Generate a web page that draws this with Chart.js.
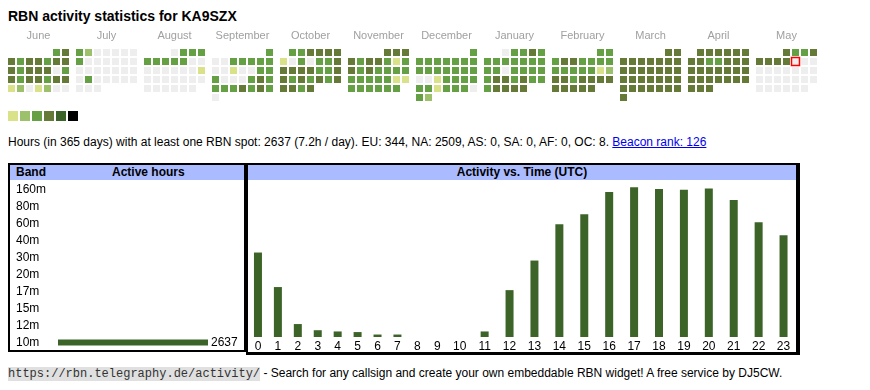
<!DOCTYPE html>
<html lang="en">
<head>
<meta charset="UTF-8">
<title>RBN activity statistics for KA9SZX</title>
<script src="https://cdn.jsdelivr.net/npm/chart.js"></script>
<style>
  body { margin: 0; width: 870px; height: 390px; position: relative; overflow: hidden; background: #fff;
         font-family: "Liberation Sans", Arial, sans-serif; font-size: 12px; color: #000; }
  .abs { position: absolute; white-space: nowrap; }
  #title { left: 8px; top: 8px; font-size: 14px; font-weight: bold; line-height: 16px; }
  .sw { position: absolute; top: 111px; width: 10px; height: 10px; }
  #summary { left: 8px; top: 135px; line-height: 14px; }
  #summary a { color: #0000ee; text-decoration: underline; }
  .box { position: absolute; box-sizing: border-box; border: 2px solid #000; }
  .head { position: absolute; top: 165px; height: 15px; background: #aabbff; }
  .th { position: absolute; top: 165px; line-height: 14px; font-weight: bold; white-space: nowrap; }
  canvas { position: absolute; }
  #footer { left: 8px; top: 366px; line-height: 15px; }
  .mono { font-family: "Liberation Mono", "Courier New", monospace; font-size: 12px; background: #e0e0e0; color: #333; }
</style>
</head>
<body>
<div id="title" class="abs">RBN activity statistics for KA9SZX</div>
<canvas id="heat" width="870" height="80" style="left:0;top:25px"></canvas>
<div id="legend"></div>
<div id="summary" class="abs">Hours (in 365 days) with at least one RBN spot: 2637 (7.2h / day). EU: 344, NA: 2509, AS: 0, SA: 0, AF: 0, OC: 8. <a href="#">Beacon rank: 126</a></div>

<div class="box" style="left:8px;top:163px;width:238px;height:189px"></div>
<div class="box" style="left:246px;top:163px;width:554px;height:192px;border-right-width:4px;border-bottom-width:3px"></div>
<div class="head" style="left:10px;width:234px"></div>
<div class="head" style="left:248px;width:548px"></div>
<div class="th" style="left:16px">Band</div>
<div class="th" style="left:112px">Active hours</div>
<div class="th" style="left:248px;width:548px;text-align:center">Activity vs. Time (UTC)</div>
<canvas id="bands" width="228" height="170" style="left:16px;top:181px"></canvas>
<canvas id="hours" width="548" height="173" style="left:248px;top:181px"></canvas>

<div id="footer" class="abs"><span class="mono">https://rbn.telegraphy.de/activity/</span> - Search for any callsign and create your own embeddable RBN widget! A free service by DJ5CW.</div>

<script>
// activity level per day (0 = none ... 5 = most), June 2024 - May 2025
const jun24 = [3,4, 4,3,4,4,3,4,4, 4,3,4,4,4,0,3, 4,3,4,4,3,4,4, 1,2,0,1,2,0,0];
const jul24 = [3,2,0,0,0,0,0, 3,0,0,0,0,0,0, 0,0,0,0,0,0,0, 0,3,0,0,0,0,0, 0,0,0];
const aug24 = [0,3,3,3, 3,3,3,3,3,0,0, 0,0,0,0,0,0,1, 0,0,0,0,0,0,0, 0,0,0,0,0,0];
const sep24 = [3, 0,0,3,3,3,3,3, 0,0,1,0,0,3,3, 3,0,0,0,3,4,3, 3,3,3,4,3,4,3, 0];
const oct24 = [3,3,4,4,4,4, 1,0,3,0,3,3,4, 4,4,4,4,3,3,4, 4,3,4,3,4,3,4, 4,4,3,4];
const nov24 = [4,4,4, 4,3,4,4,3,1,3, 4,3,4,3,3,3,3, 3,3,3,3,3,1,1, 3,3,3,3,3,3];
const dec24 = [3, 3,3,3,3,3,3,3, 3,3,3,3,3,3,3, 0,0,1,3,3,3,3, 3,3,1,3,3,3,0, 3,2];
const jan25 = [0,3,3,4,3, 3,3,3,3,3,3,3, 3,3,0,3,3,3,3, 3,4,4,3,4,3,3, 3,4,4,4,4];
const feb25 = [3,3, 3,4,4,3,3,3,3, 3,3,3,3,3,1,2, 4,4,3,4,4,4,4, 4,4,4,4,4];
const mar25 = [4,4, 4,4,4,4,4,4,4, 4,4,4,4,4,4,4, 4,4,4,4,4,4,4, 4,4,4,4,4,4,4, 4];
const apr25 = [4,4,4,4,4,4, 4,4,3,3,4,4,4, 4,4,4,4,4,4,4, 4,4,4,4,4,4,4, 4,4,4];
const may25 = [4,3,3,4, 4,4,4,4,0,0,0, 0,0,0,0,0,0,0, 0,0,0,0,0,0,0, 0,0,0,0,0,0];
const monthNames = ['June','July','August','September','October','November','December',
                    'January','February','March','April','May'];
const todayMonth = 11, todayDay = 9;

// active hours per band
const bands = ['160m','80m','60m','40m','30m','20m','17m','15m','12m','10m'];
const bandHours = [0,0,0,0,0,0,0,0,0,2637];

// active hours per UTC hour
const hourLabels = ['0','1','2','3','4','5','6','7','8','9','10','11',
                    '12','13','14','15','16','17','18','19','20','21','22','23'];
const hourCounts = [137,81,21,11,9,8,4,4,0,0,0,9,76,124,183,199,235,243,240,239,241,222,186,165];

const levelColors = ['#eeeeee','#d9e189','#9dc16b','#66a044','#667a37','#3c6428','#000000'];
const barColor = '#3c6428';
const font = '"Liberation Sans", Arial, sans-serif';

Chart.defaults.font.family = font;
Chart.defaults.font.size = 12;
Chart.defaults.color = '#000';

// legend swatches
const legend = document.getElementById('legend');
for (let i = 1; i < levelColors.length; i++) {
  const d = document.createElement('div');
  d.className = 'sw';
  d.style.left = (8 + (i - 1) * 12) + 'px';
  d.style.background = levelColors[i];
  legend.appendChild(d);
}

// calendar heatmap: x in cell units, one block of 7 columns per month
const blockPitch = 68 / 9;
const monthLevels = [jun24, jul24, aug24, sep24, oct24, nov24, dec24, jan25, feb25, mar25, apr25, may25];
const cells = [], cellColors = [], todayCell = [];
monthLevels.forEach((days, m) => {
  const first = new Date(Date.UTC(2024, 5 + m, 1));
  const offset = (first.getUTCDay() + 6) % 7;
  days.forEach((lvl, d) => {
    const k = offset + d;
    const p = {x: m * blockPitch + k % 7, y: Math.floor(k / 7)};
    cells.push(p);
    cellColors.push(levelColors[lvl]);
    if (m === todayMonth && d + 1 === todayDay) todayCell.push(p);
  });
});

const monthLabels = {
  id: 'monthLabels',
  afterDraw(chart) {
    const ctx = chart.ctx, xs = chart.scales.x;
    ctx.save();
    ctx.font = '11px ' + font;
    ctx.fillStyle = '#a0a0a0';
    ctx.textAlign = 'center';
    ctx.textBaseline = 'alphabetic';
    monthNames.forEach((name, m) => ctx.fillText(name, xs.getPixelForValue(m * blockPitch + 3), 14));
    ctx.restore();
  }
};

const cellRadius = 3.5 / Math.SQRT1_2;
new Chart(document.getElementById('heat'), {
  type: 'scatter',
  data: {
    datasets: [
      {data: cells, order: 1, pointStyle: 'rect', pointRadius: cellRadius, pointBackgroundColor: cellColors, pointBorderWidth: 0},
      {data: todayCell, order: 0, pointStyle: 'rect', pointRadius: 4 / Math.SQRT1_2,
       backgroundColor: '#eeeeee', borderColor: '#ff0000',
       pointBackgroundColor: '#eeeeee', pointBorderColor: '#ff0000', pointBorderWidth: 1.5}
    ]
  },
  options: {
    responsive: false, animation: false, events: [],
    layout: {autoPadding: false, padding: 0},
    plugins: {legend: {display: false}, tooltip: {enabled: false}},
    scales: {
      x: {type: 'linear', display: false, min: -11.5 / 9, max: -11.5 / 9 + 870 / 9},
      y: {type: 'linear', display: false, reverse: true, min: -27.5 / 9, max: -27.5 / 9 + 80 / 9}
    }
  },
  plugins: [monthLabels]
});

// band table
const valueLabels = {
  id: 'valueLabels',
  afterDatasetsDraw(chart) {
    const ctx = chart.ctx;
    const meta = chart.getDatasetMeta(0);
    ctx.save();
    ctx.font = '12px ' + font;
    ctx.fillStyle = '#000';
    ctx.textAlign = 'left';
    ctx.textBaseline = 'middle';
    meta.data.forEach((bar, i) => {
      const v = chart.data.datasets[0].data[i];
      if (v > 0) ctx.fillText(String(v), bar.x + 3, bar.y);
    });
    ctx.restore();
  }
};

new Chart(document.getElementById('bands'), {
  type: 'bar',
  data: {labels: bands, datasets: [{data: bandHours, backgroundColor: barColor, barThickness: 6, inflateAmount: 0}]},
  options: {
    indexAxis: 'y', responsive: false, animation: false, events: [],
    layout: {autoPadding: false},
    plugins: {legend: {display: false}, tooltip: {enabled: false}},
    scales: {
      x: {display: false, min: 0, max: 3270},
      y: {
        grid: {display: false, drawTicks: false}, border: {display: false},
        ticks: {crossAlign: 'far', padding: 0, autoSkip: false},
        afterFit(s) { s.width = 42; s.paddingTop = 0; s.paddingBottom = 0; }
      }
    }
  },
  plugins: [valueLabels]
});

// hour columns behave like table cells: wider for two-digit labels
const BaseCategory = Chart.CategoryScale || Chart.registry.getScale('category');
class HourScale extends BaseCategory {
  getPixelForValue(value) {
    if (typeof value !== 'number') value = this.parse(value);
    if (value === null || isNaN(value)) return NaN;
    const w = this.getLabels().map(l => String(l).length + 3);
    const total = w.reduce((a, b) => a + b, 0);
    let acc = w[value] / 2;
    for (let i = 0; i < value; i++) acc += w[i];
    return this.left + this.width * acc / total;
  }
}
HourScale.id = 'hourcat';
Chart.register(HourScale);

new Chart(document.getElementById('hours'), {
  type: 'bar',
  data: {labels: hourLabels, datasets: [{data: hourCounts, backgroundColor: barColor, barThickness: 8, inflateAmount: 0}]},
  options: {
    responsive: false, animation: false, events: [],
    layout: {autoPadding: false},
    plugins: {legend: {display: false}, tooltip: {enabled: false}},
    scales: {
      x: {
        type: 'hourcat',
        grid: {display: false, drawTicks: false}, border: {display: false},
        ticks: {padding: 2, autoSkip: false, maxRotation: 0},
        afterFit(s) { s.height = 17; s.paddingLeft = 0; s.paddingRight = 0; }
      },
      y: {display: false, min: 0, max: 253}
    }
  }
});
</script>
</body>
</html>
